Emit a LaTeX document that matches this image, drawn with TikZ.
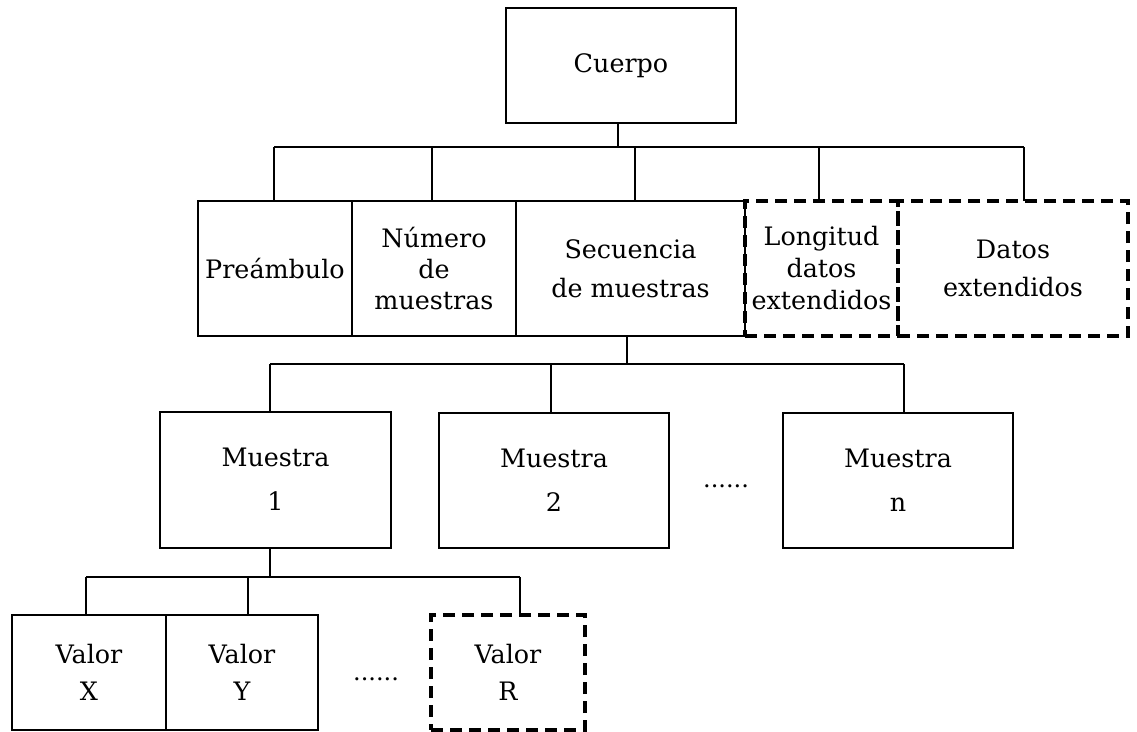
\documentclass[tikz,border=0pt]{standalone}
\usepackage{fontspec}
\setmainfont{DejaVu Serif}
\begin{document}
\begin{tikzpicture}[x=1pt,y=-1pt,
  every node/.style={inner sep=0pt, outer sep=0pt, align=center},
  boxsolid/.style={draw=black, line width=2pt, minimum width=#1},
  boxdash/.style={draw=black, line width=3.4pt, dash pattern=on 12pt off 7pt, line join=miter, minimum width=#1},
  txt/.style={font=\fontsize{25.4pt}{#1}\selectfont},
  conn/.style={draw=black, line width=2pt},
  dots/.style={font=\fontsize{24pt}{24pt}\selectfont}
]
\useasboundingbox[fill=white] (0,0) rectangle (1137,731);

% level 0
\node[boxsolid=230pt, minimum height=115pt, txt=40pt] (cuerpo) at (621,65.5) {Cuerpo};

% level 1
\node[boxsolid=154pt, minimum height=135pt, txt=40pt] (pre) at (275,268.5) {Preámbulo};
\node[boxsolid=164pt, minimum height=135pt, txt=31pt] (num) at (434,268.5) {Número\\de\\muestras};
\node[boxsolid=229pt, minimum height=135pt, txt=39pt] (sec) at (630.5,268.5) {Secuencia\\de muestras};
\node[boxdash=153pt, minimum height=135pt, txt=32pt] (lon) at (821.5,268.5) {Longitud\\datos\\extendidos};
\node[boxdash=230pt, minimum height=135pt, txt=38pt] (dat) at (1013,268.5) {Datos\\extendidos};

% level 2
\node[boxsolid=231pt, minimum height=136pt, txt=44pt] (m1) at (275.5,479.5) {Muestra\\1};
\node[boxsolid=230pt, minimum height=135pt, txt=44pt] (m2) at (554,480.5) {Muestra\\2};
\node[boxsolid=230pt, minimum height=135pt, txt=44pt] (mn) at (898,480.5) {Muestra\\n};
\node[dots] (d1) at (726,486) {......};

% level 3
\node[boxsolid=154pt, minimum height=115pt, txt=37pt] (vx) at (89,672.5) {Valor\\X};
\node[boxsolid=152pt, minimum height=115pt, txt=37pt] (vy) at (242,672.5) {Valor\\Y};
\node[boxdash=154pt, minimum height=115pt, txt=37pt] (vr) at (508,672.5) {Valor\\R};
\node[dots] (d2) at (376,679) {......};

% bus coordinates
\coordinate (b1) at (0,147);
\coordinate (b2) at (0,364);
\coordinate (b3) at (0,577);

% connectors level 0 -> 1
\draw[conn] ([xshift=-3pt]cuerpo.south) -- ([xshift=-3pt]cuerpo.south |- b1);
\draw[conn] ([xshift=-1pt]pre.north |- b1) -- ([xshift=11pt]dat.north |- b1);
\draw[conn] ([xshift=-1pt]pre.north) -- ([xshift=-1pt]pre.north |- b1);
\draw[conn] ([xshift=-2pt]num.north) -- ([xshift=-2pt]num.north |- b1);
\draw[conn] ([xshift=4.5pt]sec.north) -- ([xshift=4.5pt]sec.north |- b1);
\draw[conn] ([xshift=-2.5pt]lon.north) -- ([xshift=-2.5pt]lon.north |- b1);
\draw[conn] ([xshift=11pt]dat.north) -- ([xshift=11pt]dat.north |- b1);

% connectors level 1 -> 2
\draw[conn] ([xshift=-3.5pt]sec.south) -- ([xshift=-3.5pt]sec.south |- b2);
\draw[conn] ([xshift=-5.5pt]m1.north |- b2) -- ([xshift=6pt]mn.north |- b2);
\draw[conn] ([xshift=-5.5pt]m1.north) -- ([xshift=-5.5pt]m1.north |- b2);
\draw[conn] ([xshift=-3pt]m2.north) -- ([xshift=-3pt]m2.north |- b2);
\draw[conn] ([xshift=6pt]mn.north) -- ([xshift=6pt]mn.north |- b2);

% connectors level 2 -> 3
\draw[conn] ([xshift=-5.5pt]m1.south) -- ([xshift=-5.5pt]m1.south |- b3);
\draw[conn] ([xshift=-3pt]vx.north |- b3) -- ([xshift=12pt]vr.north |- b3);
\draw[conn] ([xshift=-3pt]vx.north) -- ([xshift=-3pt]vx.north |- b3);
\draw[conn] ([xshift=6pt]vy.north) -- ([xshift=6pt]vy.north |- b3);
\draw[conn] ([xshift=12pt]vr.north) -- ([xshift=12pt]vr.north |- b3);
\end{tikzpicture}
\end{document}
